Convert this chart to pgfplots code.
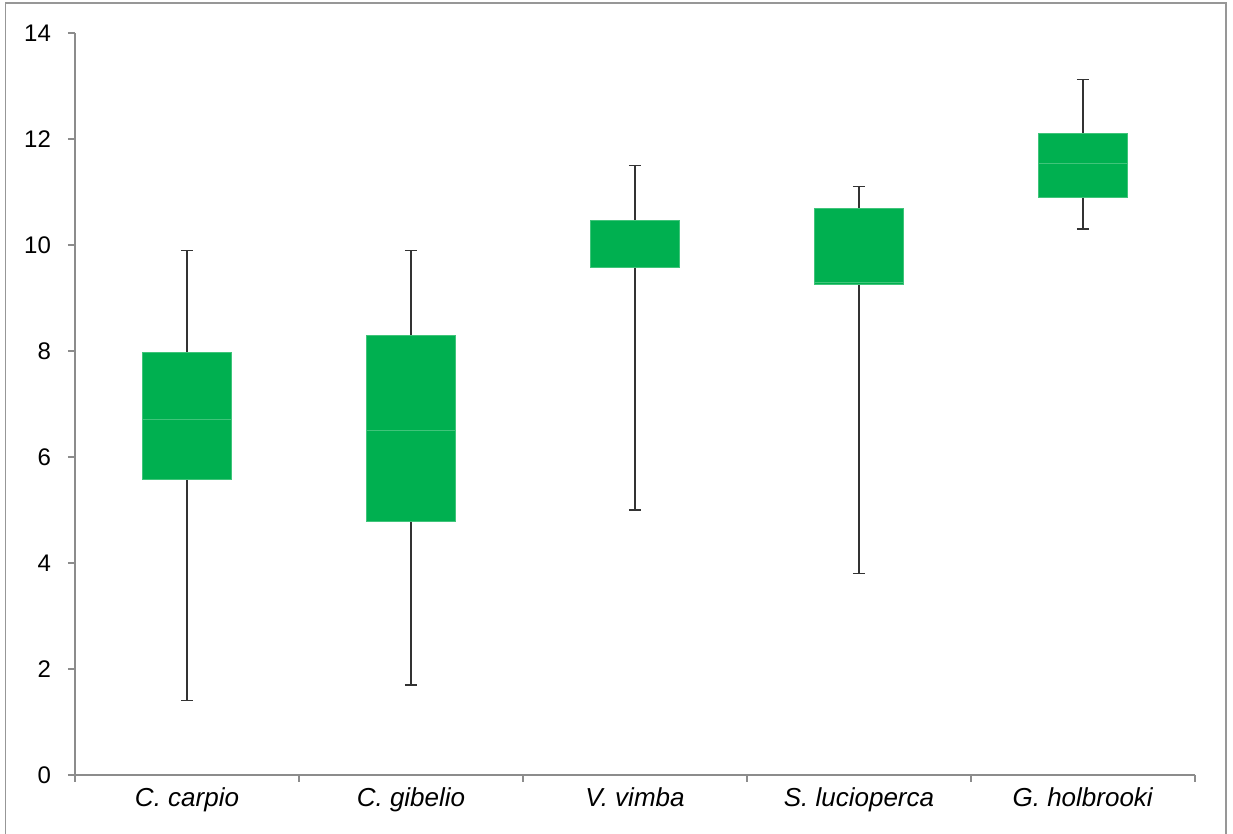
\documentclass[border=0pt]{standalone}
\usepackage{pgfplots}
\pgfplotsset{compat=1.18}
\usepgfplotslibrary{statistics}
\usepackage{fontspec}
\setmainfont{Liberation Sans}
\definecolor{boxgreen}{HTML}{00B050}
\definecolor{medgreen}{HTML}{40C47A}
\definecolor{axgray}{HTML}{8C8C8C}
\begin{document}
\begin{tikzpicture}[x=0.5pt,y=0.5pt]
\useasboundingbox (0,0) rectangle (1233,834);
\draw[color=axgray!90, line width=0.6pt] (5.5,-10) rectangle (1226,831);
\begin{axis}[
  at={(37.5pt,29.5pt)}, anchor=south west,
  scale only axis, width=560pt, height=371pt,
  xmin=0.5, xmax=5.5, ymin=0, ymax=14,
  axis x line=bottom, axis y line=left,
  axis line style={-, color=axgray, line width=0.6pt},
  tick align=outside,
  major tick length=3.5pt,
  tick style={color=axgray, line width=0.6pt},
  xtick={0.5,1.5,2.5,3.5,4.5,5.5}, xticklabels={},
  extra x ticks={1,2,3,4,5},
  extra x tick labels={\textit{C. carpio},\textit{C. gibelio},\textit{V. vimba},\textit{S. lucioperca},\textit{G. holbrooki}},
  extra x tick style={major tick length=0pt, tick label style={font=\fontsize{13}{15}\selectfont, yshift=-3pt}},
  ytick={0,2,...,14},
  /pgf/number format/assume math mode=true,
  yticklabel={\pgfmathprintnumber{\tick}},
  yticklabel style={font=\fontsize{12}{14}\selectfont, xshift=-5pt},
  boxplot/draw direction=y,
  boxplot/every box/.style={fill=boxgreen, draw=medgreen, line width=0.5pt},
  boxplot/every whisker/.style={color=black!80, line width=0.7pt},
  boxplot/every median/.style={color=medgreen, line width=0.5pt},
  boxplot/box extend=0.4,
  boxplot/whisker extend=0.055,
]
\addplot[boxplot prepared={lower whisker=1.4, lower quartile=5.57, median=6.7, upper quartile=7.98, upper whisker=9.9, draw position=1}] coordinates {};
\addplot[boxplot prepared={lower whisker=1.7, lower quartile=4.79, median=6.5, upper quartile=8.3, upper whisker=9.9, draw position=2}] coordinates {};
\addplot[boxplot prepared={lower whisker=5.0, lower quartile=9.57, median=10.47, upper quartile=10.47, upper whisker=11.5, draw position=3}] coordinates {};
\addplot[boxplot prepared={lower whisker=3.8, lower quartile=9.25, median=9.3, upper quartile=10.68, upper whisker=11.1, draw position=4}] coordinates {};
\addplot[boxplot prepared={lower whisker=10.3, lower quartile=10.9, median=11.53, upper quartile=12.11, upper whisker=13.12, draw position=5}] coordinates {};
\end{axis}
\end{tikzpicture}
\end{document}
